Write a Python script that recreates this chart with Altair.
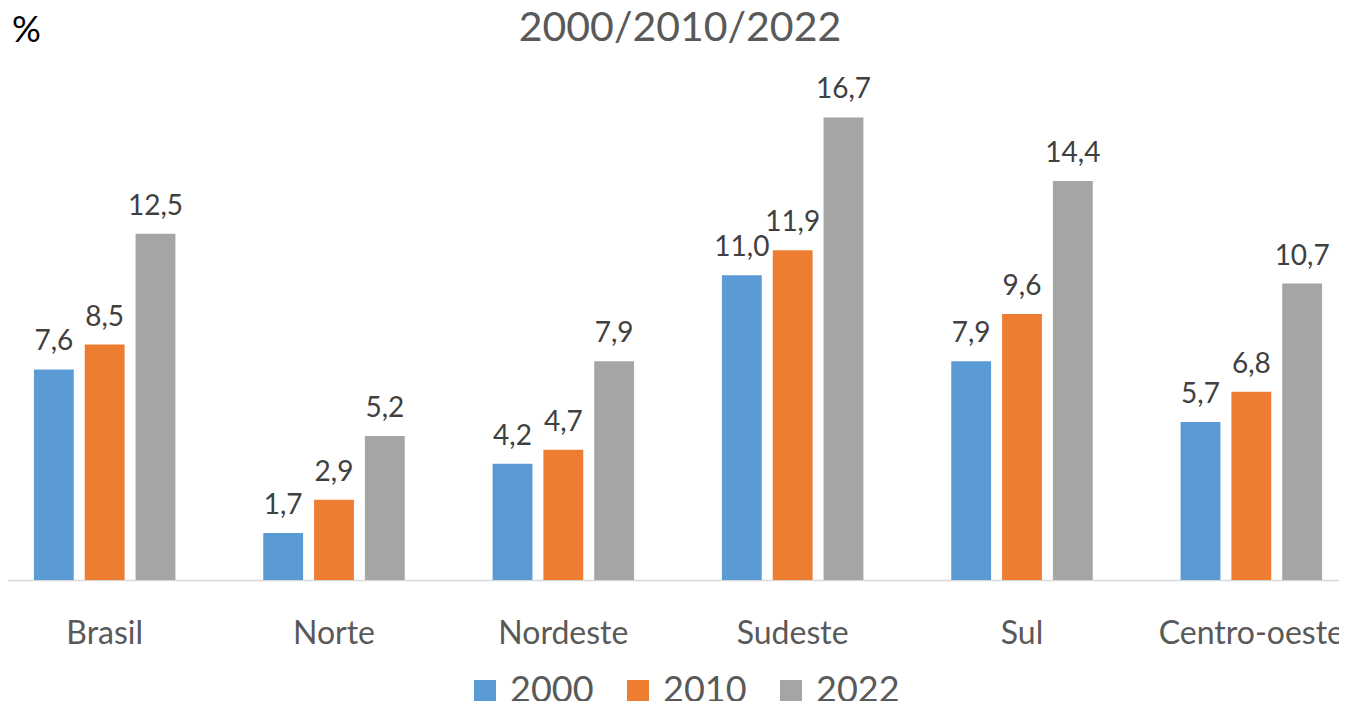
import altair as alt
import pandas as pd

regions = ["Brasil", "Norte", "Nordeste", "Sudeste", "Sul", "Centro-oeste"]
years = ["2000", "2010", "2022"]
v2000 = [7.6, 1.7, 4.2, 11.0, 7.9, 5.7]
v2010 = [8.5, 2.9, 4.7, 11.9, 9.6, 6.8]
v2022 = [12.5, 5.2, 7.9, 16.7, 14.4, 10.7]
colors = ["#5B9BD5", "#ED7D31", "#A5A5A5"]
chart_title = "2000/2010/2022"
unit_label = "%"

rows = []
for yr, vals in zip(years, [v2000, v2010, v2022]):
    for r, v in zip(regions, vals):
        rows.append({"region": r, "year": yr, "value": v,
                     "label": f"{v:.1f}".replace(".", ",")})
df = pd.DataFrame(rows)

FONT = "Lato"

x = alt.X("region:N", sort=regions,
          scale=alt.Scale(range=[-18, 1358], paddingInner=0.383, paddingOuter=0.1915),
          axis=alt.Axis(title=None, labelAngle=0, ticks=False, labelPadding=38,
                        labelFontSize=32, labelColor="#595959", labelFont=FONT,
                        labelLimit=0,
                        domainColor="#D9D9D9", domainWidth=1.5, labelOverlap=False))
xo = alt.XOffset("year:N", sort=years, scale=alt.Scale(paddingInner=0.216, paddingOuter=0))
y = alt.Y("value:Q", scale=alt.Scale(domain=[0, 20.65], nice=False, zero=True), axis=None)

bars = alt.Chart(df).mark_bar().encode(
    x=x, xOffset=xo, y=y,
    color=alt.Color("year:N", sort=years,
                    scale=alt.Scale(domain=years, range=colors),
                    legend=alt.Legend(orient="none", legendX=459, legendY=665,
                                      direction="horizontal", title=None,
                                      symbolType="square", symbolSize=484,
                                      symbolStrokeWidth=0, symbolOpacity=1,
                                      labelFontSize=36, labelFont=FONT,
                                      labelColor="#595959", labelOffset=7,
                                      columnPadding=26, padding=0))
)

labels = alt.Chart(df).mark_text(
    font=FONT, fontSize=28, color="#404040", baseline="alphabetic", dy=-19
).encode(x=x, xOffset=xo, y=y, text="label:N")

title = alt.Chart(pd.DataFrame({"t": [chart_title]})).mark_text(
    font=FONT, fontSize=41, color="#595959", align="center", baseline="alphabetic"
).encode(x=alt.value(672), y=alt.value(33), text="t:N")

pct = alt.Chart(pd.DataFrame({"t": [unit_label]})).mark_text(
    font=FONT, fontSize=36, color="#000000", align="left", baseline="alphabetic"
).encode(x=alt.value(4), y=alt.value(34), text="t:N")

chart = alt.layer(bars, labels, title, pct).properties(
    width=1331, height=572,
    padding={"left": 0, "top": 0, "right": 0, "bottom": 121},
    autosize=alt.AutoSizeParams(type="none"),
    background="white",
).configure_view(stroke=None)

chart.save("out.html", embed_options={"renderer": "svg", "actions": False})
